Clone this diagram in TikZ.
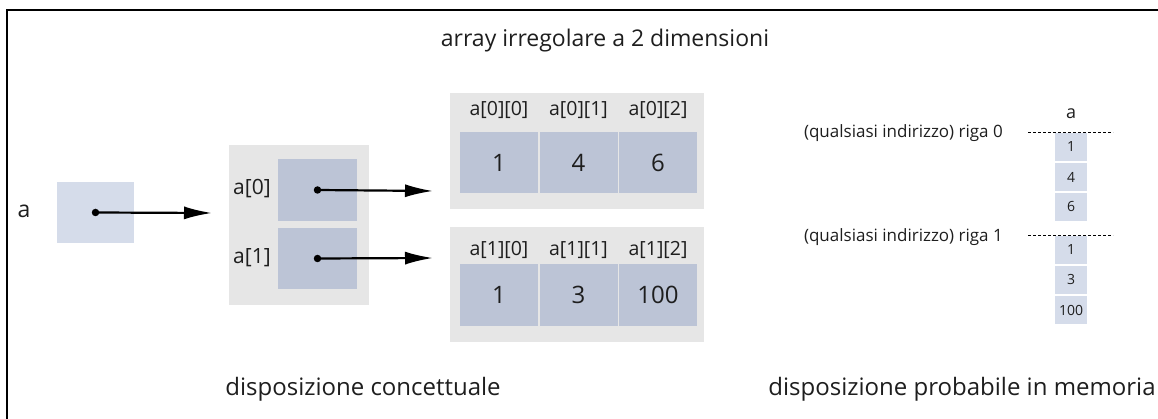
\documentclass[tikz,border=0pt]{standalone}
\usepackage{fontspec}
\setmainfont{Open Sans}
\usetikzlibrary{arrows.meta}
\definecolor{cellblue}{HTML}{BCC4D6}
\definecolor{lightblue}{HTML}{D5DCEA}
\definecolor{panelgrey}{HTML}{E6E6E6}
\definecolor{ink}{HTML}{1E1E1E}
\newcommand{\fs}[1]{\fontsize{#1}{#1}\selectfont}
\tikzset{
  every node/.style={text=ink},
  panel/.style={fill=panelgrey, draw=none, inner sep=0pt, minimum width=#1},
  cell/.style={fill=cellblue, draw=none, inner sep=0pt, minimum width=78pt, minimum height=61pt, font=\fs{24}},
  memcell/.style={fill=lightblue, draw=none, inner sep=0pt, minimum width=32pt, minimum height=28pt, font=\fs{14}},
  idx/.style={font=\fs{19.5}, inner sep=0pt},
  caption/.style={font=\fs{24}, inner sep=0pt},
  memlabel/.style={font=\fs{17}, inner sep=0pt},
  plain/.style={font=\fs{#1}, inner sep=0pt},
  pointer/.style={line width=2.2pt, -{Latex[length=28pt,width=13pt]}},
  dot/.style={circle, fill=black, inner sep=0pt, minimum size=7.5pt},
  addr/.style={dash pattern=on 3pt off 2pt, line width=0.9pt}
}
\begin{document}
\begin{tikzpicture}[x=1pt, y=-1pt]
\useasboundingbox (0,0) rectangle (1158,419);
% frame
\draw[line width=2.2pt] (7,419) -- (7,10) -- (1158,10);

% titles
\node[caption, font=\fs{23}] (title) at (605,41) {array irregolare a 2 dimensioni};
\node[caption] (capl) at (363,389) {disposizione concettuale};
\node[caption] (capr) at (962,389) {disposizione probabile in memoria};

% the variable a
\node[plain=23] (alab) at (24,211) {a};
\node[fill=lightblue, inner sep=0pt, minimum width=77pt, minimum height=61pt] (abox) at (95.5,212.5) {};
\node[dot] (adot) at (abox.center) {};

% array of row references
\node[panel=140pt, minimum height=160pt] (mid) at (299,225) {};
\node[cell, minimum width=79pt, minimum height=62pt] (m0) at (317.5,190) {};
\node[cell, minimum width=79pt, minimum height=61pt] (m1) at (317.5,258.5) {};
\node[plain=21] (m0lab) at (252,189) {a[0]};
\node[plain=21] (m1lab) at (252,258) {a[1]};
\node[dot] (d0) at (m0.center) {};
\node[dot] (d1) at (m1.center) {};

% row 0
\node[panel=254pt, minimum height=116pt] (r0) at (577,151) {};
\node[cell] (c00) at (499,162.5) {1};
\node[cell] (c01) at (578.5,162.5) {4};
\node[cell] (c02) at (658,162.5) {6};
\node[idx] (l00) at (c00.center |- 0,110) {a[0][0]};
\node[idx] (l01) at (c01.center |- 0,110) {a[0][1]};
\node[idx] (l02) at (c02.center |- 0,110) {a[0][2]};

% row 1
\node[panel=254pt, minimum height=115pt] (r1) at (577,284.5) {};
\node[cell] (c10) at (499,295) {1};
\node[cell] (c11) at (578.5,295) {3};
\node[cell] (c12) at (658,295) {100};
\node[idx] (l10) at (c10.center |- 0,250) {a[1][0]};
\node[idx] (l11) at (c11.center |- 0,250) {a[1][1]};
\node[idx] (l12) at (c12.center |- 0,250) {a[1][2]};

% pointers
\coordinate (t) at (212,213);
\coordinate (t0) at (433,191);
\coordinate (t1) at (433,258);
\draw[pointer] (adot.center) -- (t);
\draw[pointer] (d0.center) -- (t0);
\draw[pointer] (d1.center) -- (t1);

% memory layout
\node[plain=18] (mema) at (1071,114) {a};
\node[memlabel, anchor=east] (g0) at (1003,133) {(qualsiasi indirizzo) riga 0};
\node[memlabel, anchor=east] (g1) at (1003,237) {(qualsiasi indirizzo) riga 1};
\coordinate (s0a) at (1028,132);
\coordinate (s0b) at (1113,132);
\coordinate (s1a) at (1028,235);
\coordinate (s1b) at (1113,235);
\draw[addr] (s0a) -- (s0b);
\draw[addr] (s1a) -- (s1b);
\node[memcell] (k00) at (1071,147) {1};
\node[memcell] (k01) at (1071,177) {4};
\node[memcell] (k02) at (1071,207) {6};
\node[memcell] (k10) at (1071,250) {1};
\node[memcell] (k11) at (1071,280) {3};
\node[memcell] (k12) at (1071,310) {100};
\end{tikzpicture}
\end{document}
